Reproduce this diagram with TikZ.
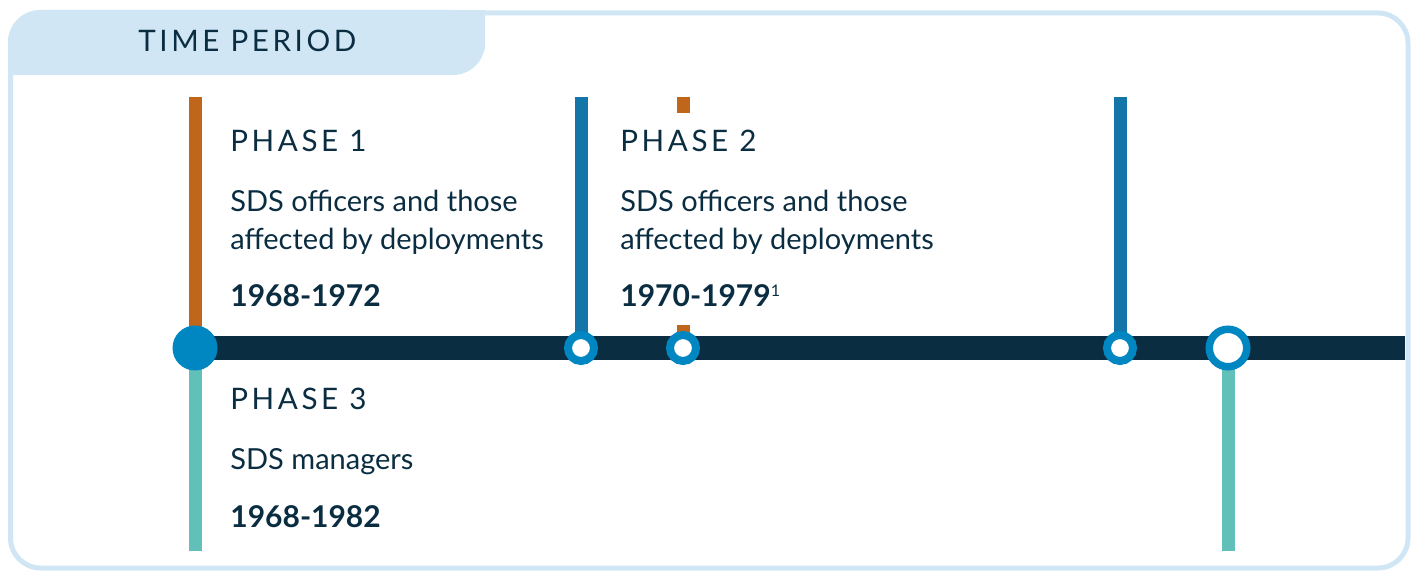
\documentclass[tikz,border=0pt]{standalone}
\usepackage{fontspec}
\setmainfont{Lato}
\newfontfamily\spacedfont[LetterSpace=12]{Lato}
\usetikzlibrary{positioning, backgrounds}
\definecolor{navy}{HTML}{0B2D42}
\definecolor{framecol}{HTML}{D0E6F4}
\definecolor{phaseorange}{HTML}{C0661A}
\definecolor{phaseblue}{HTML}{1475A8}
\definecolor{phaseteal}{HTML}{62C0BA}
\definecolor{dotblue}{HTML}{0086C0}

\begin{document}
\begin{tikzpicture}[x=0.5pt, y=-0.5pt,
  phase/.style={anchor=base west, inner sep=0pt, font=\fontsize{14.8}{18}\spacedfont, text=navy},
  desc/.style={anchor=base west, inner sep=0pt, font=\fontsize{14.5}{18}\selectfont, text=navy},
  years/.style={anchor=base west, inner sep=0pt, font=\fontsize{15}{18}\selectfont\bfseries, text=navy},
  bigdot/.style={circle, fill=dotblue, inner sep=0pt, minimum size=22.5pt},
  ring/.style={circle, draw=dotblue, fill=white, line width=4pt, inner sep=0pt, minimum size=13pt},
  bigring/.style={circle, draw=dotblue, fill=white, line width=3.75pt, inner sep=0pt, minimum size=18.75pt},
  stem/.style={line width=6.5pt},
  track/.style={line width=12pt, navy}
]
\useasboundingbox (0,0) rectangle (1414,571);

% frame and tab
\draw[framecol, line width=2.5pt, rounded corners=15pt] (10.5,13) rectangle (1408,568);
\fill[framecol, rounded corners=16pt] (8,10) rectangle (485,75);
\fill[framecol] (8,40) rectangle (60,75);
\fill[framecol] (440,10) rectangle (485,50);
\node[phase] (title) at (138,52) {TIME PERIOD};

% timeline dots
\node[bigdot]  (d1) at (195,348) {};
\node[ring]    (r1) at (581,348) {};
\node[ring]    (r2) at (683,348) {};
\node[ring]    (r3) at (1120,348) {};
\node[bigring] (r4) at (1228,348) {};

\coordinate (tend) at (1405,348);
\coordinate (t1) at (195,97);
\coordinate (t2) at (581,97);
\coordinate (t3) at (683,97);
\coordinate (t4) at (1120,97);
\coordinate (b1) at (195,551);
\coordinate (b2) at (1228,551);

\begin{scope}[on background layer]
  \draw[track] (d1.center) -- (tend);
  \draw[stem, phaseorange] (t1) -- (d1.center);
  \draw[stem, phaseteal] (d1.center) -- (b1);
  \draw[stem, phaseblue] (t2) -- (r1.center);
  \draw[stem, phaseorange, dash pattern=on 8pt off 106pt] (t3) -- (r2.center);
  \draw[stem, phaseblue] (t4) -- (r3.center);
  \draw[stem, phaseteal] (r4.center) -- (b2);
\end{scope}

% phase 1
\node[phase] (p1)  at (230,152) {PHASE 1};
\node[desc]  (p1a) at (230,212) {SDS officers and those};
\node[desc]  (p1b) at (230,250) {affected by deployments};
\node[years] (p1y) at (230,307) {1968-1972};

% phase 2
\node[phase] (p2)  at (620,152) {PHASE 2};
\node[desc]  (p2a) at (620,212) {SDS officers and those};
\node[desc]  (p2b) at (620,250) {affected by deployments};
\node[years] (p2y) at (620,307) {1970-1979\raisebox{5pt}{\mdseries\fontsize{8}{9}\selectfont 1}};

% phase 3
\node[phase] (p3)  at (230,410) {PHASE 3};
\node[desc]  (p3a) at (230,470) {SDS managers};
\node[years] (p3y) at (230,528) {1968-1982};
\end{tikzpicture}
\end{document}
